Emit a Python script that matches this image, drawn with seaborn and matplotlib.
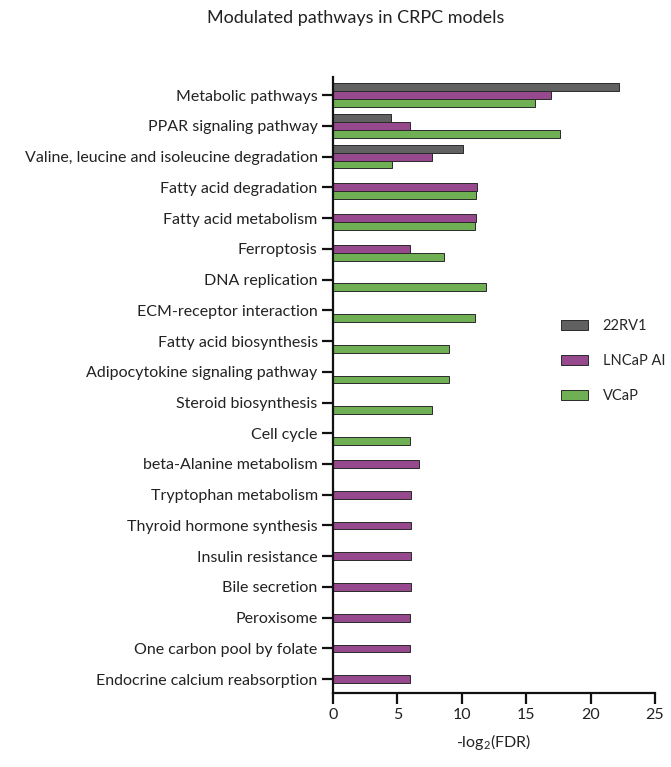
import numpy as np
import pandas as pd
import matplotlib
matplotlib.use("Agg")
import matplotlib.pyplot as plt
import seaborn as sns

pathways = [
    "Metabolic pathways",
    "PPAR signaling pathway",
    "Valine, leucine and isoleucine degradation",
    "Fatty acid degradation",
    "Fatty acid metabolism",
    "Ferroptosis",
    "DNA replication",
    "ECM-receptor interaction",
    "Fatty acid biosynthesis",
    "Adipocytokine signaling pathway",
    "Steroid biosynthesis",
    "Cell cycle",
    "beta-Alanine metabolism",
    "Tryptophan metabolism",
    "Thyroid hormone synthesis",
    "Insulin resistance",
    "Bile secretion",
    "Peroxisome",
    "One carbon pool by folate",
    "Endocrine calcium reabsorption",
]

models = ["22RV1", "LNCaP AI", "VCaP"]

# -log2(FDR) per pathway; None where the pathway is not enriched in that model
vals_22rv1 = [22.2, 4.5, 10.1, None, None, None, None, None, None, None,
              None, None, None, None, None, None, None, None, None, None]
vals_lncap = [16.9, 6.0, 7.7, 11.2, 11.1, 6.0, None, None, None, None,
              None, None, 6.7, 6.05, 6.05, 6.05, 6.05, 6.0, 6.0, 6.0]
vals_vcap = [15.7, 17.6, 4.6, 11.1, 11.0, 8.65, 11.9, 11.0, 9.0, 9.0,
             7.7, 6.0, None, None, None, None, None, None, None, None]

colors = {"22RV1": "#616161", "LNCaP AI": "#a33d97", "VCaP": "#6abf46"}

rows = []
for model, series in zip(models, [vals_22rv1, vals_lncap, vals_vcap]):
    for p, v in zip(pathways, series):
        rows.append({"pathway": p, "model": model, "value": v})
df = pd.DataFrame(rows).dropna()

sns.set_theme(style="white")
plt.rcParams["font.family"] = ["Lato", "DejaVu Sans"]
plt.rcParams["mathtext.default"] = "regular"

FS = 11.5

fig = plt.figure(figsize=(6.71, 7.67), dpi=100)
ax = fig.add_axes([333 / 671, 1 - 693 / 767, (655 - 333) / 671, (693 - 77) / 767])

sns.barplot(
    data=df, y="pathway", x="value", hue="model",
    order=pathways, hue_order=models, palette=colors,
    orient="h", width=0.76, dodge=True,
    edgecolor="#2a2a2a", linewidth=0.7, ax=ax, legend=True,
)

ax.set_xlim(0, 25)
ax.set_ylim(len(pathways) - 0.55, -0.59)
ax.set_xticks([0, 5, 10, 15, 20, 25])
ax.set_xlabel("-log$_2$(FDR)", fontsize=FS, color="#222222", labelpad=7)
ax.set_ylabel("")
sns.despine(ax=ax)
for s in ["left", "bottom"]:
    ax.spines[s].set_linewidth(1.6)
    ax.spines[s].set_color("#111111")
ax.tick_params(axis="both", which="major", length=8, width=1.6,
               color="#111111", labelsize=FS, labelcolor="#222222",
               left=True, bottom=True, direction="out", pad=3)

ax.legend(
    loc="upper left", bbox_to_anchor=(561 / 671, 1 - 319 / 767),
    bbox_transform=fig.transFigure, frameon=False, fontsize=10.5,
    handlelength=1.85, handleheight=0.7, handletextpad=1.0,
    labelspacing=1.45, borderpad=0, borderaxespad=0,
)

fig.text(0.53, 1 - 18 / 767, "Modulated pathways in CRPC models",
         ha="center", va="center", fontsize=13, color="#222222")

fig.savefig("out.png", dpi=100)
